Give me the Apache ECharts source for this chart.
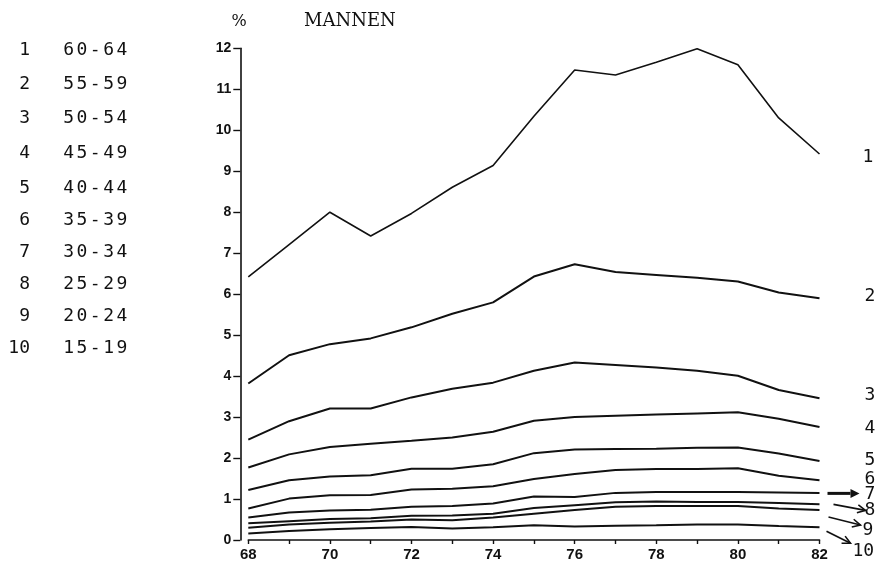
<!DOCTYPE html>
<html><head><meta charset="utf-8">
<script src="https://cdn.jsdelivr.net/npm/echarts@6/dist/echarts.min.js"></script>
<style>html,body{margin:0;padding:0;background:#fff}#c{width:877px;height:565px}</style>
</head><body><div id="c"></div>
<script>
// ---- data ----
const years = [68,69,70,71,72,73,74,75,76,77,78,79,80,81,82];
const lineNumbers = ['1','2','3','4','5','6','7','8','9','10'];
const ageGroups = ['60-64','55-59','50-54','45-49','40-44','35-39','30-34','25-29','20-24','15-19'];
const age60_64 = [6.42,7.21,8.00,7.42,7.97,8.61,9.14,10.34,11.47,11.35,11.66,11.99,11.60,10.30,9.42];
const age55_59 = [3.82,4.51,4.78,4.92,5.19,5.52,5.80,6.43,6.73,6.54,6.47,6.40,6.31,6.04,5.90];
const age50_54 = [2.45,2.90,3.21,3.21,3.48,3.69,3.84,4.13,4.33,4.27,4.21,4.13,4.01,3.66,3.46];
const age45_49 = [1.77,2.09,2.27,2.35,2.42,2.50,2.64,2.91,3.00,3.03,3.06,3.09,3.12,2.96,2.76];
const age40_44 = [1.22,1.46,1.55,1.58,1.74,1.74,1.85,2.12,2.21,2.22,2.23,2.25,2.26,2.11,1.93];
const age35_39 = [0.77,1.01,1.09,1.10,1.23,1.25,1.31,1.49,1.61,1.71,1.73,1.73,1.75,1.57,1.46];
const age30_34 = [0.55,0.67,0.72,0.74,0.81,0.83,0.89,1.06,1.05,1.15,1.17,1.17,1.17,1.16,1.15];
const age25_29 = [0.41,0.46,0.51,0.53,0.59,0.60,0.64,0.78,0.85,0.92,0.94,0.93,0.93,0.90,0.87];
const age20_24 = [0.30,0.38,0.42,0.45,0.50,0.48,0.55,0.64,0.73,0.81,0.83,0.83,0.83,0.77,0.73];
const age15_19 = [0.16,0.22,0.26,0.29,0.32,0.28,0.31,0.36,0.33,0.35,0.36,0.38,0.38,0.34,0.31];
const seriesValues = [age60_64,age55_59,age50_54,age45_49,age40_44,age35_39,age30_34,age25_29,age20_24,age15_19];
const yMin = 0, yMax = 12, yStep = 1;
const xMin = 68, xMax = 82;

// ---- styles ----
const INK = '#111';
const MONO = '"DejaVu Sans Mono", monospace';
const endLabelOffsets = [[43,3],[45,-2],[45,-3],[45,1],[45,-1],[45,-1],[45,1],[45,6],[43,20],[33,24]];
// arrows (relative to line end) for labels 7..10: [sx,sy,ex,ey,thick]
const arrowRel = {6:[8,0.5,40,0.5,true],7:[14,0,46,6,false],8:[9,7,41,15,false],9:[7,4,31,16,false]};

const chart = echarts.init(document.getElementById('c'), null, {renderer:'canvas'});

function charRich(str){
  return str.split('').map(ch => '{c|' + ch + '}').join('');
}

const legendGraphics = [];
const rowY = [50,84,118,153,188,220,252,284,316,348];
ageGroups.forEach((g,i) => {
  legendGraphics.push({type:'text', x:30, y:rowY[i], style:{text:lineNumbers[i], font:'18px '+MONO, fill:INK, textAlign:'right', textVerticalAlign:'middle'}});
  legendGraphics.push({type:'text', x:62, y:rowY[i], style:{text:charRich(g), fill:INK, textVerticalAlign:'middle', rich:{c:{width:13.3, align:'center', fontFamily:MONO, fontSize:18, color:INK}}}});
});
legendGraphics.push({type:'text', x:304, y:21, style:{text:'MANNEN', font:'18px "DejaVu Serif", serif', fill:INK, textVerticalAlign:'middle'}});
legendGraphics.push({type:'text', x:239, y:22, style:{text:'%', font:'16px "DejaVu Serif", serif', fill:INK, textAlign:'center', textVerticalAlign:'middle'}});

const series = seriesValues.map((vals,i) => ({
  type:'line',
  name: ageGroups[i],
  data: years.map((y,k) => [y, vals[k]]),
  symbol:'none',
  lineStyle:{color:INK, width: i===0 ? 1.6 : 2},
  silent:true,
  animation:false,
  endLabel:{show:true, formatter: lineNumbers[i], distance:0, offset:endLabelOffsets[i], fontFamily:MONO, fontSize:18, color:INK, align:'left', verticalAlign:'middle'}
}));

chart.setOption({
  animation:false,
  backgroundColor:'#fff',
  grid:{left:248.3, right:57.5, top:48.3, bottom:25, containLabel:false},
  xAxis:{type:'value', min:xMin, max:xMax, interval:1,
    axisLine:{show:true, onZero:false, lineStyle:{color:INK, width:1.6}},
    axisTick:{show:true, length:4, lineStyle:{color:INK, width:1.4}},
    axisLabel:{margin:7, color:INK, fontFamily:'"Liberation Sans", Arial, sans-serif', fontWeight:'bold', fontSize:15,
      formatter: v => (v % 2 === 0 ? String(v) : '')},
    splitLine:{show:false}},
  yAxis:{type:'value', min:yMin, max:yMax, interval:yStep, offset:8,
    axisLine:{show:true, lineStyle:{color:INK, width:1.6}},
    axisTick:{show:true, length:7, lineStyle:{color:INK, width:1.4}},
    axisLabel:{margin:9, color:INK, fontFamily:'"Liberation Sans", Arial, sans-serif', fontWeight:'bold', fontSize:14},
    splitLine:{show:false}},
  series: series,
  graphic: legendGraphics
});

// arrows anchored to line ends via the chart's scales
const arrowGraphics = [];
Object.keys(arrowRel).forEach(k => {
  const i = +k;
  const vals = seriesValues[i];
  const p = chart.convertToPixel({gridIndex:0}, [years[years.length-1], vals[vals.length-1]]);
  const [sx,sy,ex,ey,thick] = arrowRel[k];
  const x1 = p[0]+sx, y1 = p[1]+sy, x2 = p[0]+ex, y2 = p[1]+ey;
  const ang = Math.atan2(y2-y1, x2-x1);
  const hl = thick ? 9 : 8, hw = thick ? 4.5 : 4;
  const bx = x2 - hl*Math.cos(ang), by = y2 - hl*Math.sin(ang);
  const lx = bx + hw*Math.sin(ang), ly = by - hw*Math.cos(ang);
  const rx = bx - hw*Math.sin(ang), ry = by + hw*Math.cos(ang);
  arrowGraphics.push({type:'line', shape:{x1:x1,y1:y1,x2:thick?bx:x2,y2:thick?by:y2}, style:{stroke:INK, lineWidth: thick?3:1.6}});
  if (thick) {
    arrowGraphics.push({type:'polygon', shape:{points:[[x2,y2],[lx,ly],[rx,ry]]}, style:{fill:INK}});
  } else {
    arrowGraphics.push({type:'polyline', shape:{points:[[lx,ly],[x2,y2],[rx,ry]]}, style:{stroke:INK, lineWidth:1.6, fill:null}});
  }
});
chart.setOption({graphic: legendGraphics.concat(arrowGraphics)});
</script>
</body></html>
